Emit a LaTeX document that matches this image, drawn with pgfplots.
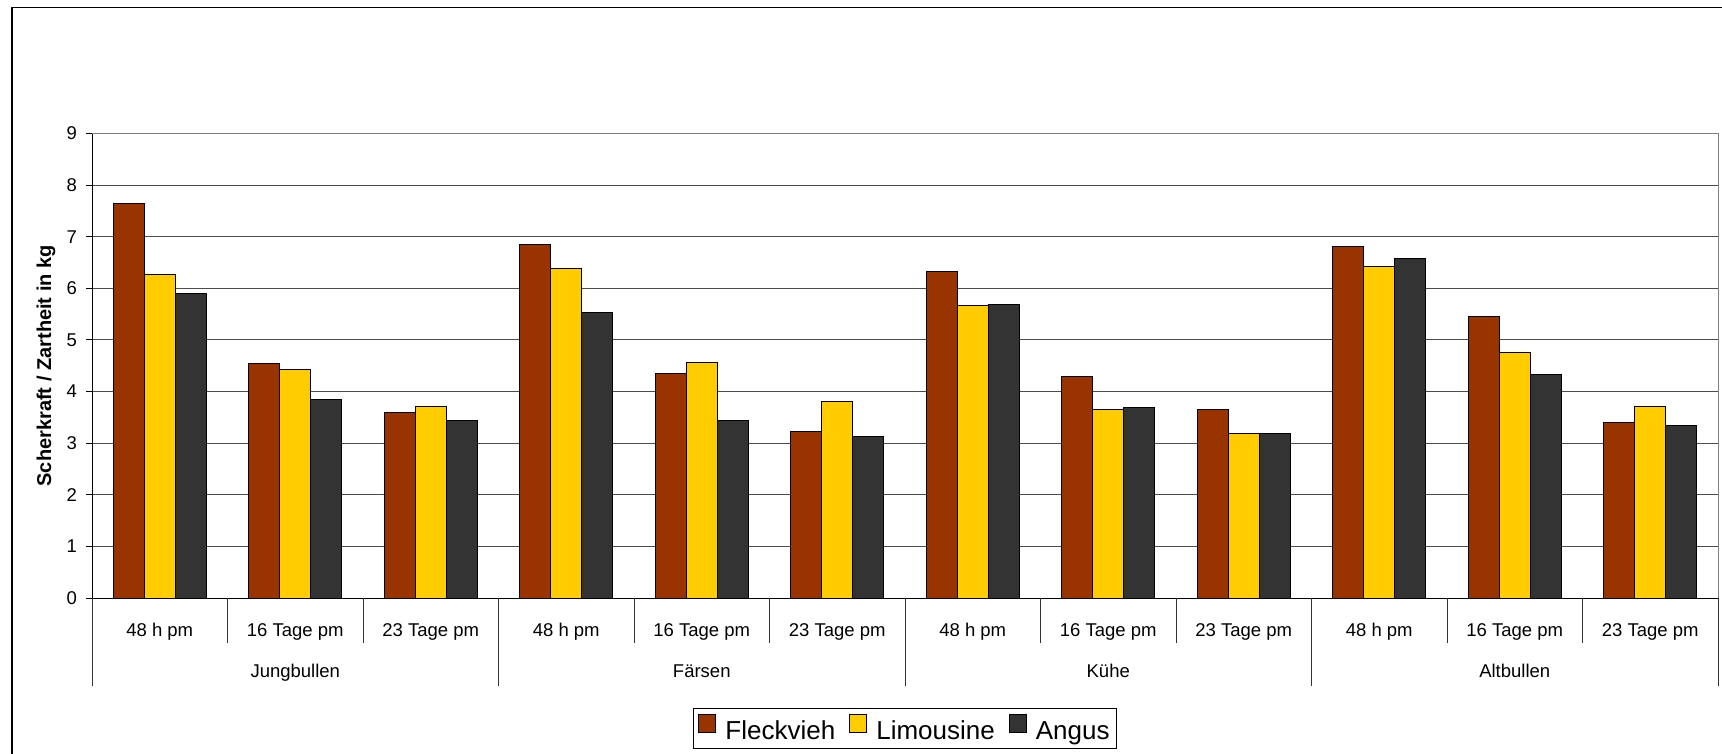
\documentclass[border=0pt]{standalone}
\usepackage{fontspec}
\setmainfont{Liberation Sans}
\usepackage{pgfplots}
\pgfplotsset{compat=1.18}
\usepackage{pgfplotstable}
\definecolor{fleck}{HTML}{993300}
\definecolor{limo}{HTML}{FFCC00}
\definecolor{angus}{HTML}{333333}

\pgfplotstableread{
x F L A
0 7.65 6.26 5.90
1 4.54 4.43 3.84
2 3.59 3.72 3.44
3 6.85 6.38 5.53
4 4.35 4.57 3.44
5 3.23 3.81 3.13
6 6.32 5.67 5.68
7 4.30 3.65 3.69
8 3.65 3.19 3.19
9 6.82 6.42 6.57
10 5.46 4.76 4.33
11 3.40 3.72 3.35
}\datatable

\begin{document}
\begin{tikzpicture}
\begin{axis}[
  at={(92pt,-598pt)}, anchor=south west, scale only axis,
  width=1626pt, height=464.5pt,
  xmin=-0.5, xmax=11.5, ymin=0, ymax=9,
  ybar=0pt, bar width=31pt,
  ytick={0,1,...,9},
  xtick={0,...,11},
  xticklabels={48 h pm,16 Tage pm,23 Tage pm,48 h pm,16 Tage pm,23 Tage pm,48 h pm,16 Tage pm,23 Tage pm,48 h pm,16 Tage pm,23 Tage pm},
  axis x line*=bottom, axis y line*=left,
  axis line style={black, line width=1pt},
  ymajorgrids, grid style={black!70, line width=1pt},
  xtick style={draw=none},
  ytick style={black, line width=1pt},
  tick align=outside, major tick length=6pt,
  /pgf/number format/assume math mode=true,
  yticklabel style={font=\fontsize{18.5}{21}\selectfont, anchor=east, inner sep=0pt, xshift=-9pt},
  xticklabel style={font=\fontsize{18.5}{22}\selectfont, anchor=base, inner sep=0pt, yshift=-32pt},
  ylabel={Scherkraft / Zartheit in kg},
  ylabel style={font=\fontsize{20}{24}\selectfont\bfseries, at={(axis description cs:0,0.5)}, anchor=center, yshift=46pt},
  legend style={at={(axis description cs:0.5,0)}, anchor=north, yshift=-110pt,
    draw=black, line width=1pt, font=\fontsize{26}{30}\selectfont,
    /tikz/every odd column/.append style={column sep=7pt},
    /tikz/every even column/.append style={column sep=12pt},
    inner xsep=5pt, inner ysep=5pt},
  legend columns=3,
  legend image code/.code={\draw[#1, line width=1pt] (0pt,-1pt) rectangle (17pt,17pt);},
  clip=false,
]
\addplot[fill=fleck, draw=black, line width=1pt] table[x=x, y=F] {\datatable};
\addplot[fill=limo, draw=black, line width=1pt] table[x=x, y=L] {\datatable};
\addplot[fill=angus, draw=black, line width=1pt] table[x=x, y=A] {\datatable};
\legend{Fleckvieh, Limousine, Angus}
\draw[gray, line width=1pt] (rel axis cs:0,1) -- (rel axis cs:1,1) -- (rel axis cs:1,0);
\pgfplotsinvokeforeach{0.5,1.5,3.5,4.5,6.5,7.5,9.5,10.5}{
  \draw[black!80, line width=1pt] (axis cs:#1,0) -- ([yshift=-45pt]axis cs:#1,0);
}
\pgfplotsinvokeforeach{-0.5,2.5,5.5,8.5,11.5}{
  \draw[black!80, line width=1pt] (axis cs:#1,0) -- ([yshift=-88pt]axis cs:#1,0);
}
\node[anchor=base, yshift=-79.5pt, font=\fontsize{18.5}{22}\selectfont] at (axis cs:1,0) {Jungbullen};
\node[anchor=base, yshift=-79.5pt, font=\fontsize{18.5}{22}\selectfont] at (axis cs:4,0) {Färsen};
\node[anchor=base, yshift=-79.5pt, font=\fontsize{18.5}{22}\selectfont] at (axis cs:7,0) {Kühe};
\node[anchor=base, yshift=-79.5pt, font=\fontsize{18.5}{22}\selectfont] at (axis cs:10,0) {Altbullen};
\end{axis}
\draw[black, line width=1.5pt] (12pt,-7.5pt) rectangle (1780pt,-790pt);
\pgfresetboundingbox
\useasboundingbox (0pt,0pt) rectangle (1722pt,-753pt);
\end{tikzpicture}
\end{document}
